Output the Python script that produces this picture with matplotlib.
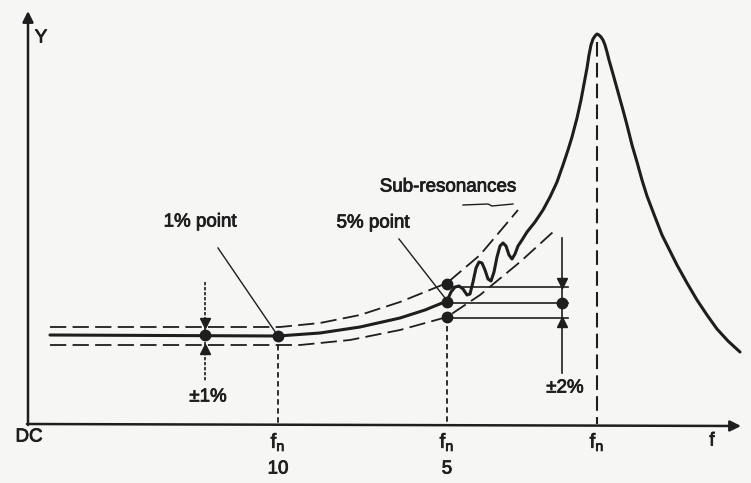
import matplotlib
matplotlib.use("Agg")
import matplotlib.pyplot as plt
import matplotlib.patheffects as pe

plt.rcParams['font.family'] = ['Liberation Sans', 'DejaVu Sans']
plt.rcParams['mathtext.fontset'] = 'custom'
plt.rcParams['mathtext.rm'] = 'Liberation Sans'
plt.rcParams['mathtext.it'] = 'Liberation Sans'

INK = '#1e1e1e'
BG = '#f6f6f4'

# ---- data (diagram units: x to the right, y downward) ----
curve_x = [50, 278, 320, 360, 400, 425, 447, 451, 455, 459, 463, 467, 470, 473, 476, 479,
           482, 485, 488, 491, 494, 497, 500, 503, 506, 509, 512, 515, 518, 522, 527,
           535, 543, 550, 557, 563, 568, 572, 577, 581, 584, 587, 589, 591, 593, 595,
           597, 599, 601, 603, 605, 607, 609, 613, 618, 623, 627, 632, 637, 642, 647,
           655, 662, 670, 677, 687, 697, 707, 717, 728, 740]
curve_y = [335, 336, 333, 327, 318, 310, 301, 292, 287, 286, 289, 295, 294, 282, 268, 262,
           263, 270, 279, 281, 272, 257, 246, 243, 246, 255, 259, 254, 246, 240, 232,
           222, 210, 197, 182, 165, 150, 137, 118, 100, 84, 68, 55, 45, 39, 36,
           34, 35, 37, 40, 45, 52, 60, 74, 92, 110, 125, 145, 162, 180, 196,
           217, 235, 251, 265, 283, 300, 315, 329, 341, 352]

upper_x = [50, 280, 320, 360, 400, 447, 480, 518]
upper_y = [327, 327, 323, 315, 302, 283, 255, 210]
lower_x = [50, 300, 350, 400, 447, 480, 520, 553]
lower_y = [345, 345, 340, 330, 317, 295, 262, 232]

pt1_x, pt1_y = 278, 336            # 1% point
pt5_x = 447                        # 5% point
pt5_levels = [284, 302, 317]       # upper / nominal / lower at 5% point
band2_levels = [287, 303, 318]     # ±2% horizontal lines
band2_x = 562
band1_x = 205
band1_levels = [327, 335, 345]     # ±1% at DC
fn_x = 597

tick_x = [278, 447, 597]
tick_top = [r'$\mathrm{f_n}$', r'$\mathrm{f_n}$', r'$\mathrm{f_n}$']
tick_bottom = ['10', '5', '']

fig = plt.figure(figsize=(7.51, 4.83), dpi=100, facecolor=BG)
ax = fig.add_axes([0, 0, 1, 1])
ax.set_facecolor(BG)
ax.set_xlim(0, 751)
ax.set_ylim(483, 0)
ax.axis('off')

# axes with arrows
ax.annotate('', xy=(741, 426), xytext=(27, 424),
            arrowprops=dict(arrowstyle='-|>', lw=1.8, color=INK, mutation_scale=16,
                            shrinkA=0, shrinkB=0))
ax.annotate('', xy=(28, 11), xytext=(28, 425),
            arrowprops=dict(arrowstyle='-|>', lw=1.8, color=INK, mutation_scale=16,
                            shrinkA=0, shrinkB=0))

# tolerance bands
ax.plot(upper_x, upper_y, color=INK, lw=1.3, dashes=(9, 3.5))
ax.plot(lower_x, lower_y, color=INK, lw=1.3, dashes=(9, 3.5))

# main response curve
ax.plot(curve_x, curve_y, color=INK, lw=2.2, solid_joinstyle='round', solid_capstyle='round')

# vertical dashed guides
ax.plot([pt1_x, pt1_x], [pt1_y, 424], color=INK, lw=1.3, dashes=(3, 2))
ax.plot([pt5_x, pt5_x], [pt5_levels[2], 424], color=INK, lw=1.3, dashes=(3, 2))
ax.plot([fn_x, fn_x], [42, 424], color=INK, lw=1.5, dashes=(7, 3))

# ±2% horizontal lines and vertical
for lv in band2_levels:
    ax.plot([pt5_x, 568], [lv, lv], color=INK, lw=1.2)
ax.plot([band2_x, band2_x], [238, 373], color=INK, lw=1.2)
ax.plot([band2_x], [band2_levels[0] - 4], marker='v', ms=7, color=INK)
ax.plot([band2_x], [band2_levels[1]], marker='o', ms=7.5, color=INK)
ax.plot([band2_x], [band2_levels[2] + 4], marker='^', ms=7, color=INK)

# ±1% vertical
ax.plot([band1_x, band1_x], [282, 382], color=INK, lw=1.2, dashes=(2, 1))
ax.plot([band1_x], [band1_levels[0] - 4], marker='v', ms=7, color=INK)
ax.plot([band1_x], [band1_levels[1]], marker='o', ms=7.5, color=INK)
ax.plot([band1_x], [band1_levels[2] + 4], marker='^', ms=7, color=INK)

# points
ax.plot([pt1_x], [pt1_y], marker='o', ms=7.5, color=INK)
ax.plot([pt5_x] * 3, pt5_levels, 'o', ms=7.5, color=INK)

# leader lines
ax.plot([218, pt1_x], [248, pt1_y], color=INK, lw=1.0)
ax.plot([399, pt5_x - 2], [239, 298], color=INK, lw=1.0)
ax.plot([463, 488, 492, 513], [205, 204, 206, 204], color=INK, lw=1.0)

fs = 13.5
stroke = [pe.withStroke(linewidth=0.6, foreground=INK)]
def label(x, y, s, size=fs):
    ax.text(x, y, s, fontsize=size, ha='center', va='center', color=INK, path_effects=stroke)

label(200, 222, '1% point')
label(373, 223, '5% point')
label(448, 187, 'Sub-resonances')
label(208, 397, '±1%')
label(565, 388, '±2%')
label(29, 437, 'DC')
label(41, 38, 'Y')
label(712, 441, 'f')
for tx, tt, tb in zip(tick_x, tick_top, tick_bottom):
    label(tx, 442, tt, fs + 1)
    if tb:
        label(tx, 469, tb)

fig.savefig('out.png', dpi=100, facecolor=BG)
